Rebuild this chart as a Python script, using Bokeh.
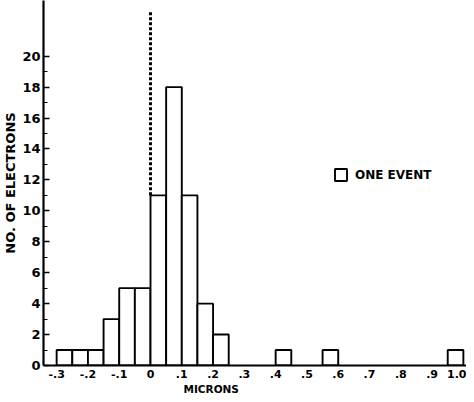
from bokeh.plotting import figure
from bokeh.models import FixedTicker, Legend, LegendItem, Range1d, Title
from bokeh.embed import file_html
from bokeh.resources import INLINE

# ---- data ----
bin_left = [-0.30, -0.25, -0.20, -0.15, -0.10, -0.05, 0.00, 0.05, 0.10, 0.15, 0.20, 0.40, 0.55, 0.95]
counts = [1, 1, 1, 3, 5, 5, 11, 18, 11, 4, 2, 1, 1, 1]
bin_width = 0.05
x_ticks = [-0.3, -0.2, -0.1, 0.0, 0.1, 0.2, 0.3, 0.4, 0.5, 0.6, 0.7, 0.8, 0.9, 1.0]
x_tick_labels = ["-.3", "-.2", "-.1", "0", ".1", ".2", ".3", ".4", ".5", ".6", ".7", ".8", ".9", "1.0"]
y_ticks = [0, 2, 4, 6, 8, 10, 12, 14, 16, 18, 20]
y_minor = [1, 3, 5, 7, 9, 11, 13, 15, 17, 19]
zero_line_top = 22.9
zero_line_x = 0.0
zero_line_bottom = 11

FONT = "DejaVu Sans"

p = figure(width=466, height=394, output_backend="svg", toolbar_location=None,
           x_range=Range1d(-0.342, 1.010), y_range=Range1d(0, 23.6),
           min_border_left=35, min_border_right=0, min_border_top=0, min_border_bottom=0)
p.outline_line_color = None
p.xgrid.visible = False
p.ygrid.visible = False
p.background_fill_color = "white"

right = [l + bin_width for l in bin_left]
bars = p.quad(left=bin_left, right=right, bottom=0, top=counts,
              fill_color="white", line_color="black", line_width=1.9)

p.segment(x0=[zero_line_x], y0=[zero_line_bottom], x1=[zero_line_x], y1=[zero_line_top],
          line_color="black", line_width=3, line_dash="3 2")

# x axis
xa = p.xaxis[0]
xa.ticker = FixedTicker(ticks=x_ticks)
xa.major_label_overrides = {t: s for t, s in zip(x_ticks, x_tick_labels)}
xa.major_tick_in = 0
xa.major_tick_out = 0
xa.minor_tick_in = 0
xa.minor_tick_out = 0
xa.axis_line_width = 2
xa.major_label_standoff = 4
xa.major_label_text_font = FONT
xa.major_label_text_font_style = "bold"
xa.major_label_text_font_size = "11px"
xa.major_label_text_color = "black"

# y axis
ya = p.yaxis[0]
ya.ticker = FixedTicker(ticks=y_ticks, minor_ticks=y_minor)
ya.major_tick_in = 6
ya.major_tick_out = 0
ya.minor_tick_in = 4
ya.minor_tick_out = 0
ya.major_tick_line_width = 1.5
ya.axis_line_width = 2.2
ya.major_label_standoff = 3
ya.major_label_text_font = FONT
ya.major_label_text_font_style = "bold"
ya.major_label_text_font_size = "13px"
ya.major_label_text_color = "black"
ya.axis_label = "NO. OF ELECTRONS"
ya.axis_label_text_font = FONT
ya.axis_label_text_font_style = "bold"
ya.axis_label_text_font_size = "13px"
ya.axis_label_standoff = 1
ya.axis_label_text_color = "black"

# x axis title, placed under the .2 tick as in the original
p.add_layout(Title(text="MICRONS", align="left", offset=140, standoff=0,
                   text_font=FONT, text_font_style="bold", text_font_size="10.5px",
                   text_color="black"), "below")

legend = Legend(items=[LegendItem(label="ONE EVENT", renderers=[bars])],
                location=(290, 183), padding=0, margin=0, border_line_color=None,
                background_fill_alpha=0, glyph_width=15, glyph_height=15,
                label_height=15, label_standoff=7,
                label_text_font=FONT, label_text_font_style="bold",
                label_text_font_size="12px", label_text_color="black")
p.add_layout(legend)

open("out.html", "w").write(file_html(p, INLINE))
